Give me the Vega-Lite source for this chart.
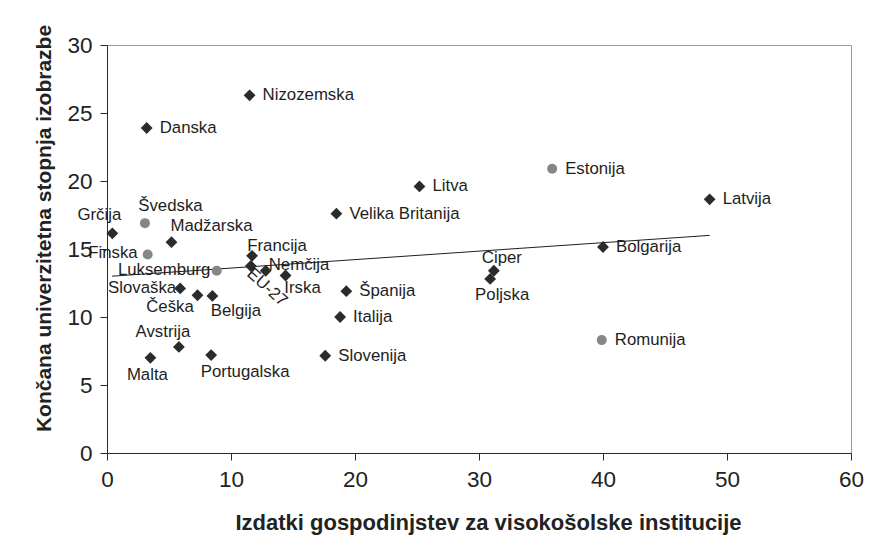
{
  "$schema": "https://vega.github.io/schema/vega-lite/v6.json",
  "width": 744,
  "height": 408,
  "autosize": {"type": "none"},
  "padding": {"left": 107, "top": 45, "right": 18, "bottom": 100},
  "background": "white",
  "config": {
    "font": "Liberation Sans",
    "view": {"stroke": "#9a9a9a", "strokeWidth": 1}
  },
  "datasets": {
    "pts": [
      {"name": "Grčija", "x": 0.43, "y": 16.15, "kategorija": "A"},
      {"name": "Švedska", "x": 3.06, "y": 16.9, "kategorija": "B"},
      {"name": "Madžarska", "x": 5.2, "y": 15.5, "kategorija": "A"},
      {"name": "Finska", "x": 3.28, "y": 14.6, "kategorija": "B"},
      {"name": "Luksemburg", "x": 8.85, "y": 13.4, "kategorija": "B"},
      {"name": "Slovaška", "x": 5.9, "y": 12.1, "kategorija": "A"},
      {"name": "Češka", "x": 7.3, "y": 11.6, "kategorija": "A"},
      {"name": "Belgija", "x": 8.5, "y": 11.55, "kategorija": "A"},
      {"name": "Avstrija", "x": 5.8, "y": 7.8, "kategorija": "A"},
      {"name": "Malta", "x": 3.5, "y": 7.0, "kategorija": "A"},
      {"name": "Portugalska", "x": 8.4, "y": 7.2, "kategorija": "A"},
      {"name": "Francija", "x": 11.7, "y": 14.5, "kategorija": "A"},
      {"name": "EU-27", "x": 11.6, "y": 13.75, "kategorija": "A"},
      {"name": "Nemčija", "x": 12.8, "y": 13.4, "kategorija": "A"},
      {"name": "Irska", "x": 14.4, "y": 13.05, "kategorija": "A"},
      {"name": "Španija", "x": 19.3, "y": 11.9, "kategorija": "A"},
      {"name": "Italija", "x": 18.8, "y": 10.0, "kategorija": "A"},
      {"name": "Slovenija", "x": 17.6, "y": 7.15, "kategorija": "A"},
      {"name": "Nizozemska", "x": 11.5, "y": 26.3, "kategorija": "A"},
      {"name": "Danska", "x": 3.2, "y": 23.9, "kategorija": "A"},
      {"name": "Velika Britanija", "x": 18.5, "y": 17.6, "kategorija": "A"},
      {"name": "Litva", "x": 25.2, "y": 19.6, "kategorija": "A"},
      {"name": "Estonija", "x": 35.9, "y": 20.9, "kategorija": "B"},
      {"name": "Latvija", "x": 48.6, "y": 18.65, "kategorija": "A"},
      {"name": "Bolgarija", "x": 40.0, "y": 15.15, "kategorija": "A"},
      {"name": "Ciper", "x": 31.2, "y": 13.4, "kategorija": "A"},
      {"name": "Poljska", "x": 30.9, "y": 12.8, "kategorija": "A"},
      {"name": "Romunija", "x": 39.9, "y": 8.3, "kategorija": "B"}
    ],
    "trend": [
      {"x": 0.4, "y": 13.0},
      {"x": 48.6, "y": 16.0}
    ]
  },
  "encoding": {
    "x": {
      "field": "x", "type": "quantitative",
      "scale": {"domain": [0, 60], "nice": false, "zero": false},
      "axis": {
        "title": "Izdatki gospodinjstev za visokošolske institucije",
        "values": [0, 10, 20, 30, 40, 50, 60],
        "grid": false,
        "domainColor": "#2a2a2a", "tickColor": "#2a2a2a", "tickSize": 7,
        "labelFontSize": 22.5, "labelColor": "#222", "labelPadding": 8, "labelFlush": false,
        "titleFontSize": 22, "titleFontWeight": "bold", "titleColor": "#222",
        "titleX": 381, "titleY": 76, "titleBaseline": "alphabetic", "titleAlign": "center"
      }
    },
    "y": {
      "field": "y", "type": "quantitative",
      "scale": {"domain": [0, 30], "nice": false, "zero": false},
      "axis": {
        "title": "Končana univerzitetna stopnja izobrazbe",
        "values": [0, 5, 10, 15, 20, 25, 30],
        "grid": false,
        "domainColor": "#2a2a2a", "tickColor": "#2a2a2a", "tickSize": 7,
        "labelFontSize": 22.5, "labelColor": "#222", "labelPadding": 8, "labelFlush": false,
        "titleFontSize": 21, "titleFontWeight": "bold", "titleColor": "#222",
        "titleAngle": -90, "titleX": -57, "titleY": 183, "titleBaseline": "alphabetic", "titleAlign": "center"
      }
    }
  },
  "layer": [
    {
      "data": {"name": "trend"},
      "mark": {"type": "line", "color": "#1e1e1e", "strokeWidth": 1},
      "encoding": {}
    },
    {
      "data": {"name": "pts"},
      "mark": {"type": "point", "filled": true, "opacity": 1},
      "encoding": {
        "shape": {"field": "kategorija", "type": "nominal", "scale": {"domain": ["A", "B"], "range": ["diamond", "circle"]}, "legend": null},
        "color": {"field": "kategorija", "type": "nominal", "scale": {"domain": ["A", "B"], "range": ["#2b2b2b", "#868686"]}, "legend": null},
        "size": {"field": "kategorija", "type": "ordinal", "scale": {"domain": ["A", "B"], "range": [140, 100]}, "legend": null}
      }
    },
    {
      "data": {"name": "pts"},
      "transform": [{"filter": {"field": "name", "oneOf": ["Nizozemska", "Danska", "Litva", "Velika Britanija", "Estonija", "Latvija", "Bolgarija", "Romunija", "Španija", "Italija", "Slovenija"]}}],
      "mark": {"type": "text", "align": "left", "baseline": "middle", "dx": 13, "fontSize": 16.8, "color": "#1e1e1e"},
      "encoding": {"text": {"field": "name"}}
    },
    {"data": {"name": "pts"}, "transform": [{"filter": {"field": "name", "equal": "Grčija"}}],
     "mark": {"type": "text", "align": "center", "baseline": "middle", "dx": -13, "dy": -18, "fontSize": 16.8, "color": "#1e1e1e"},
     "encoding": {"text": {"field": "name"}}},
    {"data": {"name": "pts"}, "transform": [{"filter": {"field": "name", "equal": "Švedska"}}],
     "mark": {"type": "text", "align": "center", "baseline": "middle", "dx": 25.5, "dy": -17, "fontSize": 16.8, "color": "#1e1e1e"},
     "encoding": {"text": {"field": "name"}}},
    {"data": {"name": "pts"}, "transform": [{"filter": {"field": "name", "equal": "Madžarska"}}],
     "mark": {"type": "text", "align": "center", "baseline": "middle", "dx": 40, "dy": -16, "fontSize": 16.8, "color": "#1e1e1e"},
     "encoding": {"text": {"field": "name"}}},
    {"data": {"name": "pts"}, "transform": [{"filter": {"field": "name", "equal": "Francija"}}],
     "mark": {"type": "text", "align": "center", "baseline": "middle", "dx": 25, "dy": -10, "fontSize": 16.8, "color": "#1e1e1e"},
     "encoding": {"text": {"field": "name"}}},
    {"data": {"name": "pts"}, "transform": [{"filter": {"field": "name", "equal": "Ciper"}}],
     "mark": {"type": "text", "align": "center", "baseline": "middle", "dx": 8, "dy": -13, "fontSize": 16.8, "color": "#1e1e1e"},
     "encoding": {"text": {"field": "name"}}},
    {"data": {"name": "pts"}, "transform": [{"filter": {"field": "name", "equal": "Avstrija"}}],
     "mark": {"type": "text", "align": "center", "baseline": "middle", "dx": -16, "dy": -15, "fontSize": 16.8, "color": "#1e1e1e"},
     "encoding": {"text": {"field": "name"}}},
    {"data": {"name": "pts"}, "transform": [{"filter": {"field": "name", "equal": "Malta"}}],
     "mark": {"type": "text", "align": "center", "baseline": "middle", "dx": -3, "dy": 17, "fontSize": 16.8, "color": "#1e1e1e"},
     "encoding": {"text": {"field": "name"}}},
    {"data": {"name": "pts"}, "transform": [{"filter": {"field": "name", "equal": "Portugalska"}}],
     "mark": {"type": "text", "align": "center", "baseline": "middle", "dx": 34, "dy": 17, "fontSize": 16.8, "color": "#1e1e1e"},
     "encoding": {"text": {"field": "name"}}},
    {"data": {"name": "pts"}, "transform": [{"filter": {"field": "name", "equal": "Češka"}}],
     "mark": {"type": "text", "align": "center", "baseline": "middle", "dx": -27.5, "dy": 12, "fontSize": 16.8, "color": "#1e1e1e"},
     "encoding": {"text": {"field": "name"}}},
    {"data": {"name": "pts"}, "transform": [{"filter": {"field": "name", "equal": "Belgija"}}],
     "mark": {"type": "text", "align": "center", "baseline": "middle", "dx": 23.5, "dy": 15, "fontSize": 16.8, "color": "#1e1e1e"},
     "encoding": {"text": {"field": "name"}}},
    {"data": {"name": "pts"}, "transform": [{"filter": {"field": "name", "equal": "Irska"}}],
     "mark": {"type": "text", "align": "center", "baseline": "middle", "dx": 17, "dy": 12.5, "fontSize": 16.8, "color": "#1e1e1e"},
     "encoding": {"text": {"field": "name"}}},
    {"data": {"name": "pts"}, "transform": [{"filter": {"field": "name", "equal": "Poljska"}}],
     "mark": {"type": "text", "align": "center", "baseline": "middle", "dx": 12, "dy": 16, "fontSize": 16.8, "color": "#1e1e1e"},
     "encoding": {"text": {"field": "name"}}},
    {"data": {"name": "pts"}, "transform": [{"filter": {"field": "name", "equal": "Nemčija"}}],
     "mark": {"type": "text", "align": "left", "baseline": "middle", "dx": 3, "dy": -6, "fontSize": 16.8, "color": "#1e1e1e"},
     "encoding": {"text": {"field": "name"}}},
    {"data": {"name": "pts"}, "transform": [{"filter": {"field": "name", "equal": "Finska"}}],
     "mark": {"type": "text", "align": "right", "baseline": "middle", "dx": -10, "dy": -1, "fontSize": 16.8, "color": "#1e1e1e"},
     "encoding": {"text": {"field": "name"}}},
    {"data": {"name": "pts"}, "transform": [{"filter": {"field": "name", "equal": "Luksemburg"}}],
     "mark": {"type": "text", "align": "right", "baseline": "middle", "dx": -6.5, "dy": -1, "fontSize": 16.8, "color": "#1e1e1e"},
     "encoding": {"text": {"field": "name"}}},
    {"data": {"name": "pts"}, "transform": [{"filter": {"field": "name", "equal": "Slovaška"}}],
     "mark": {"type": "text", "align": "right", "baseline": "middle", "dx": -4, "dy": 0, "fontSize": 16.8, "color": "#1e1e1e"},
     "encoding": {"text": {"field": "name"}}},
    {"data": {"name": "pts"}, "transform": [{"filter": {"field": "name", "equal": "EU-27"}}],
     "mark": {"type": "text", "align": "left", "baseline": "middle", "angle": 42, "dx": 2.5, "dy": 5, "fontSize": 16.8, "color": "#1e1e1e"},
     "encoding": {"text": {"field": "name"}}}
  ]
}
